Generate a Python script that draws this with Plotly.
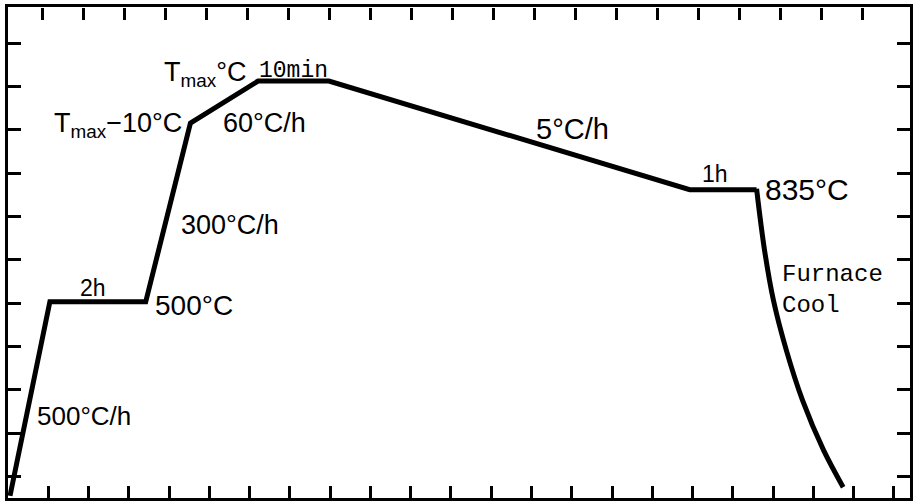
import plotly.graph_objects as go

# ---- data (schematic units: x = time grid units, y = temperature grid units)
step_time = [0.05, 1.04, 3.42, 4.53, 6.21, 7.97, 16.93, 18.59]
step_temp = [0.05, 4.53, 4.53, 8.66, 9.63, 9.63, 7.12, 7.12]

cool_time = [18.59, 18.79, 19.01, 19.33, 19.73, 20.25, 20.74]
cool_temp = [7.14, 5.71, 4.56, 3.41, 2.26, 1.11, 0.25]

x_bottom_ticks = list(range(1, 23))
x_top_ticks = [0.83 + k for k in range(21)]
y_ticks = [0.5 + k for k in range(11)]

W, H = 917, 502
L, R, T, B = 8, 4, 6, 4
PW, PH = W - L - R, H - T - B

fig = go.Figure()
fig.add_trace(go.Scatter(x=step_time, y=step_temp, mode="lines",
                         line=dict(color="black", width=5), showlegend=False,
                         hoverinfo="skip"))
fig.add_trace(go.Scatter(x=cool_time, y=cool_temp, mode="lines",
                         line=dict(color="black", width=5, shape="spline", smoothing=1.0),
                         showlegend=False, hoverinfo="skip"))
# invisible trace so the top tick axis is drawn
fig.add_trace(go.Scatter(x=[1, 2], y=[1, 2], xaxis="x2", yaxis="y", mode="markers",
                         marker=dict(size=1, color="rgba(0,0,0,0)"), showlegend=False,
                         hoverinfo="skip"))


def ann(text, px, py, size, family="Liberation Sans", xanchor="center", align="center"):
    fig.add_annotation(text=text, x=(px - L) / PW, y=(H - B - py) / PH,
                       xref="paper", yref="paper", showarrow=False,
                       xanchor=xanchor, yanchor="middle", align=align,
                       font=dict(size=size, family=family, color="black"))


ann("T<sub>max</sub>°C", 206, 73, 27)
ann("10min", 294, 70, 23, family="Liberation Mono")
ann("T<sub>max</sub>−10°C", 118, 124, 27)
ann("60°C/h", 265, 122, 27)
ann("300°C/h", 231, 224, 27)
ann("2h", 93, 288, 23)
ann("500°C", 195, 305, 28)
ann("500°C/h", 84, 416, 26)
ann("5°C/h", 574, 128, 29)
ann("1h", 717, 173, 23)
ann("835°C", 810, 189, 30)
ann("Furnace<br>Cool", 783, 290, 24, family="Liberation Mono", xanchor="left", align="left")

fig.update_layout(
    width=W, height=H,
    margin=dict(l=L, r=R, t=T, b=B),
    paper_bgcolor="white", plot_bgcolor="white",
    xaxis=dict(range=[0, 22.4], tickvals=x_bottom_ticks, ticks="inside", ticklen=12,
               tickwidth=2.5, tickcolor="black", showticklabels=False, showgrid=False,
               zeroline=False, showline=True, linewidth=3, linecolor="black", mirror=True),
    xaxis2=dict(range=[0, 22.0], overlaying="x", side="bottom", anchor="free", position=1.0,
                tickmode="array", tickvals=x_top_ticks,
                ticks="outside", ticklen=12, tickwidth=2.5, tickcolor="black",
                showticklabels=False, showgrid=False, zeroline=False,
                showline=False),
    yaxis=dict(range=[0, 11.34], tickvals=y_ticks, ticks="inside", ticklen=13,
               tickwidth=2.5, tickcolor="black", showticklabels=False, showgrid=False,
               zeroline=False, showline=True, linewidth=3, linecolor="black",
               mirror="ticks"),
)

fig.write_html("out.html")
